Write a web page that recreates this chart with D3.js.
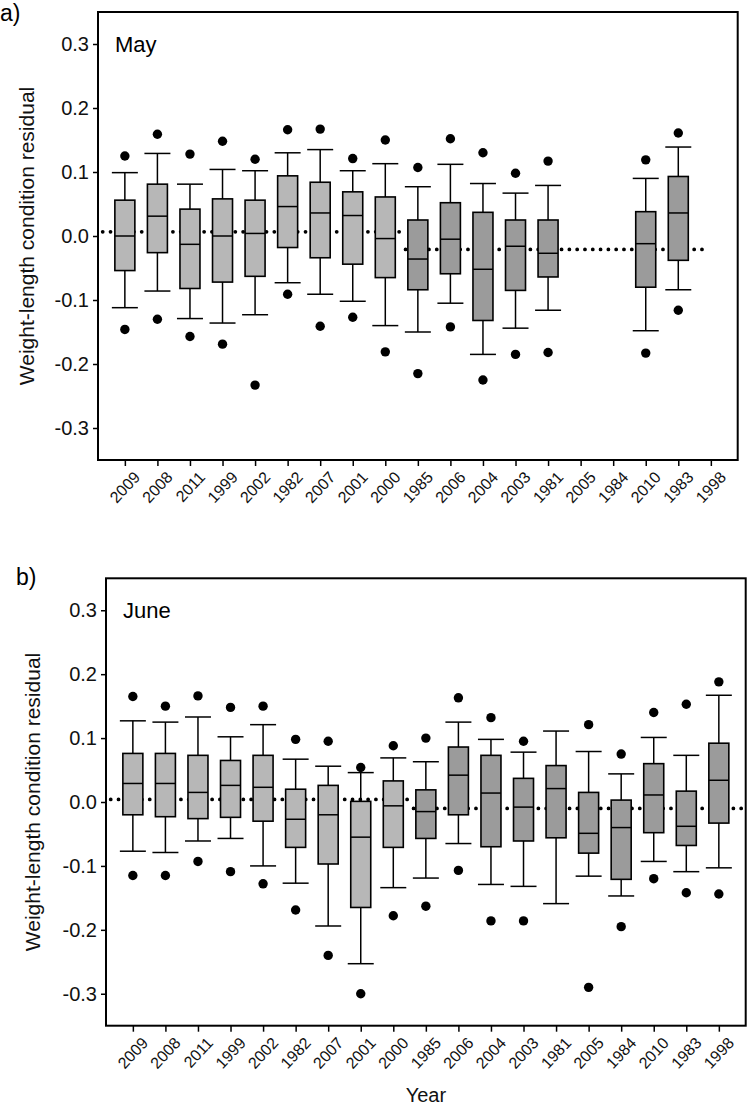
<!DOCTYPE html>
<html>
<head>
<meta charset="utf-8">
<script src="https://cdn.jsdelivr.net/npm/d3@7"></script>
<style>
  body { margin: 0; background: #fff; }
  svg { display: block; font-family: "Liberation Sans", Arial, sans-serif; }
</style>
</head>
<body>
<svg width="750" height="1105"></svg>
<script>
// categories (x order as in the figure)
const years = ["2009", "2008", "2011", "1999", "2002", "1982", "2007", "2001", "2000",
    "1985", "2006", "2004", "2003", "1981", "2005", "1984", "2010", "1983", "1998"];
// first group (lighter boxes)
const lightYears = ["2009", "2008", "2011", "1999", "2002", "1982", "2007", "2001", "2000"];
const yTicks = [-0.3, -0.2, -0.1, 0.0, 0.1, 0.2, 0.3];

// May
const mayLowCap = [-0.112, -0.086, -0.129, -0.136, -0.123, -0.073, -0.091, -0.102, -0.140,
    -0.150, -0.105, -0.185, -0.144, -0.116, null, null, -0.148, -0.084, null];
const mayQ1 = [-0.054, -0.026, -0.082, -0.072, -0.063, -0.018, -0.034, -0.044, -0.065,
    -0.084, -0.059, -0.132, -0.085, -0.064, null, null, -0.080, -0.038, null];
const mayMedian = [0.000, 0.031, -0.013, 0.000, 0.004, 0.046, 0.036, 0.032, -0.004,
    -0.036, -0.005, -0.052, -0.016, -0.027, null, null, -0.012, 0.036, null];
const mayQ3 = [0.056, 0.081, 0.042, 0.058, 0.056, 0.094, 0.084, 0.069, 0.061,
    0.025, 0.052, 0.037, 0.025, 0.025, null, null, 0.038, 0.093, null];
const mayHighCap = [0.099, 0.129, 0.081, 0.104, 0.102, 0.130, 0.135, 0.102, 0.113,
    0.077, 0.112, 0.082, 0.067, 0.079, null, null, 0.090, 0.139, null];
const mayOutLow = [-0.146, -0.130, -0.157, -0.169, -0.233, -0.091, -0.141, -0.127, -0.181,
    -0.215, -0.142, -0.225, -0.185, -0.182, null, null, -0.183, -0.116, null];
const mayOutHigh = [0.125, 0.159, 0.128, 0.148, 0.120, 0.166, 0.167, 0.121, 0.150,
    0.107, 0.152, 0.130, 0.098, 0.117, null, null, 0.119, 0.161, null];
const mayMeans = [0.0065, -0.021];

// June
const juneLowCap = [-0.077, -0.079, -0.061, -0.057, -0.100, -0.127, -0.194, -0.253, -0.134,
    -0.119, -0.065, -0.129, -0.132, -0.159, -0.116, -0.147, -0.093, -0.109, -0.103];
const juneQ1 = [-0.020, -0.023, -0.026, -0.024, -0.030, -0.071, -0.097, -0.165, -0.071,
    -0.057, -0.020, -0.070, -0.061, -0.056, -0.080, -0.121, -0.048, -0.068, -0.033];
const juneMedian = [0.029, 0.029, 0.015, 0.026, 0.023, -0.027, -0.020, -0.055, -0.006,
    -0.015, 0.042, 0.014, -0.008, 0.021, -0.049, -0.040, 0.011, -0.038, 0.034];
const juneQ3 = [0.076, 0.076, 0.073, 0.065, 0.073, 0.020, 0.026, 0.001, 0.033,
    0.019, 0.086, 0.073, 0.037, 0.057, 0.015, 0.003, 0.060, 0.017, 0.092];
const juneHighCap = [0.127, 0.125, 0.133, 0.102, 0.121, 0.067, 0.056, 0.046, 0.069,
    0.063, 0.125, 0.098, 0.078, 0.111, 0.079, 0.044, 0.101, 0.073, 0.167];
const juneOutLow = [-0.115, -0.115, -0.093, -0.109, -0.128, -0.169, -0.240, -0.300, -0.178,
    -0.163, -0.107, -0.186, -0.186, null, -0.290, -0.195, -0.120, -0.142, -0.144];
const juneOutHigh = [0.165, 0.150, 0.166, 0.148, 0.150, 0.098, 0.095, 0.054, 0.088,
    0.100, 0.163, 0.132, 0.095, null, 0.121, 0.075, 0.140, 0.153, 0.188];
const juneMeans = [0.004, -0.010];

const svg = d3.select("svg");

function drawPanel({ frame, letter, letterPos, month, lowCap, q1, median, q3, highCap, outLow, outHigh, means, labelX, xTitle }) {

    const x = d3.scalePoint()
        .domain(years)
        .range([frame.left, frame.right])
        .padding(0.825);

    const y = d3.scaleLinear()
        .domain([-0.35, 0.35])
        .range([frame.bottom, frame.top]);

    const step = x.step();
    const data = years.map((yr, i) => ({
        year: yr, lowCap: lowCap[i], q1: q1[i], median: median[i], q3: q3[i],
        highCap: highCap[i], outLow: outLow[i], outHigh: outHigh[i]
    }));
    const boxes = data.filter((d) => d.median !== null);
    const g = svg.append("g");

    // y axis
    const yAxis = g.append("g")
        .attr("transform", `translate(${frame.left},0)`)
        .call(d3.axisLeft(y).tickValues(yTicks).tickSize(5).tickPadding(4).tickFormat((d) => d.toFixed(1)));
    yAxis.select(".domain").remove();
    yAxis.selectAll("line").attr("stroke", "#000").attr("stroke-width", 1.5);
    yAxis.selectAll("text")
        .attr("font-size", 20)
        .attr("fill", "#111")
        .attr("font-family", "'Liberation Sans', Arial, sans-serif");

    // x axis
    const xAxis = g.append("g")
        .attr("transform", `translate(0,${frame.bottom})`)
        .call(d3.axisBottom(x).tickSize(6).tickPadding(3));
    xAxis.select(".domain").remove();
    xAxis.selectAll("line").attr("stroke", "#000").attr("stroke-width", 1.5);
    xAxis.selectAll("text")
        .attr("font-size", 16)
        .attr("fill", "#111")
        .attr("font-family", "'Liberation Sans', Arial, sans-serif")
        .attr("text-anchor", "end")
        .attr("dy", "0.35em")
        .attr("transform", "translate(5,8) rotate(-47)");

    // mean lines (dotted)
    const mid = (x(lightYears[lightYears.length - 1]) + x(years[lightYears.length])) / 2;
    const lastWithData = boxes[boxes.length - 1].year;
    const segs = [
        { x1: x(years[0]) - step * 0.68, x2: mid, v: means[0] },
        { x1: mid + 4, x2: Math.min(x(lastWithData) + step * 0.86, frame.right), v: means[1] }
    ];
    g.selectAll(".mean")
        .data(segs)
        .enter()
        .append("line")
        .attr("class", "mean")
        .attr("x1", (d) => Math.max(d.x1, frame.left + 3))
        .attr("x2", (d) => d.x2)
        .attr("y1", (d) => y(d.v))
        .attr("y2", (d) => y(d.v))
        .attr("stroke", "#000")
        .attr("stroke-width", 3.8)
        .attr("stroke-linecap", "round")
        .attr("stroke-dasharray", "0 7.8");

    const bw = 20, cw = 26;

    // whiskers
    g.selectAll(".whisker")
        .data(boxes)
        .enter()
        .append("line")
        .attr("class", "whisker")
        .attr("x1", (d) => x(d.year))
        .attr("x2", (d) => x(d.year))
        .attr("y1", (d) => y(d.lowCap))
        .attr("y2", (d) => y(d.highCap))
        .attr("stroke", "#000")
        .attr("stroke-width", 1.5);

    g.selectAll(".cap")
        .data(boxes.flatMap((d) => [{ year: d.year, v: d.lowCap }, { year: d.year, v: d.highCap }]))
        .enter()
        .append("line")
        .attr("class", "cap")
        .attr("x1", (d) => x(d.year) - cw / 2)
        .attr("x2", (d) => x(d.year) + cw / 2)
        .attr("y1", (d) => y(d.v))
        .attr("y2", (d) => y(d.v))
        .attr("stroke", "#000")
        .attr("stroke-width", 1.5);

    // boxes
    g.selectAll(".box")
        .data(boxes)
        .enter()
        .append("rect")
        .attr("class", "box")
        .attr("x", (d) => x(d.year) - bw / 2)
        .attr("width", bw)
        .attr("y", (d) => y(d.q3))
        .attr("height", (d) => y(d.q1) - y(d.q3))
        .attr("fill", (d) => lightYears.includes(d.year) ? "#b7b7b7" : "#9b9b9b")
        .attr("stroke", "#000")
        .attr("stroke-width", 1.6);

    g.selectAll(".median")
        .data(boxes)
        .enter()
        .append("line")
        .attr("class", "median")
        .attr("x1", (d) => x(d.year) - bw / 2)
        .attr("x2", (d) => x(d.year) + bw / 2)
        .attr("y1", (d) => y(d.median))
        .attr("y2", (d) => y(d.median))
        .attr("stroke", "#000")
        .attr("stroke-width", 1.5);

    // outliers
    g.selectAll(".outlier")
        .data(boxes.flatMap((d) => [{ year: d.year, v: d.outLow }, { year: d.year, v: d.outHigh }]).filter((d) => d.v !== null))
        .enter()
        .append("circle")
        .attr("class", "outlier")
        .attr("cx", (d) => x(d.year))
        .attr("cy", (d) => y(d.v))
        .attr("r", 4.7)
        .attr("fill", "#000");

    // frame
    g.append("rect")
        .attr("x", frame.left)
        .attr("y", frame.top)
        .attr("width", frame.right - frame.left)
        .attr("height", frame.bottom - frame.top)
        .attr("fill", "none")
        .attr("stroke", "#000")
        .attr("stroke-width", 2);

    // texts
    g.append("text")
        .attr("x", frame.left + 17)
        .attr("y", y(0.3) + 8)
        .attr("font-size", 22)
        .attr("fill", "#000")
        .text(month);

    g.append("text")
        .attr("x", letterPos[0])
        .attr("y", letterPos[1])
        .attr("font-size", 23)
        .attr("fill", "#000")
        .text(letter);

    g.append("text")
        .attr("transform", `translate(${labelX},${(frame.top + frame.bottom) / 2}) rotate(-90)`)
        .attr("text-anchor", "middle")
        .attr("font-size", 21)
        .attr("fill", "#111")
        .text("Weight-length condition residual");

    if (xTitle) {
        g.append("text")
            .attr("x", (frame.left + frame.right) / 2)
            .attr("y", 1102)
            .attr("text-anchor", "middle")
            .attr("font-size", 20)
            .attr("fill", "#111")
            .text(xTitle);
    }
}

drawPanel({
    frame: { left: 98, top: 12, right: 737.7, bottom: 460 },
    letter: "a)", letterPos: [0, 21], month: "May",
    lowCap: mayLowCap, q1: mayQ1, median: mayMedian, q3: mayQ3, highCap: mayHighCap,
    outLow: mayOutLow, outHigh: mayOutHigh, means: mayMeans, labelX: 34
});

drawPanel({
    frame: { left: 106, top: 578.3, right: 745.7, bottom: 1025.7 },
    letter: "b)", letterPos: [16, 585], month: "June",
    lowCap: juneLowCap, q1: juneQ1, median: juneMedian, q3: juneQ3, highCap: juneHighCap,
    outLow: juneOutLow, outHigh: juneOutHigh, means: juneMeans, labelX: 40, xTitle: "Year"
});
</script>
</body>
</html>
